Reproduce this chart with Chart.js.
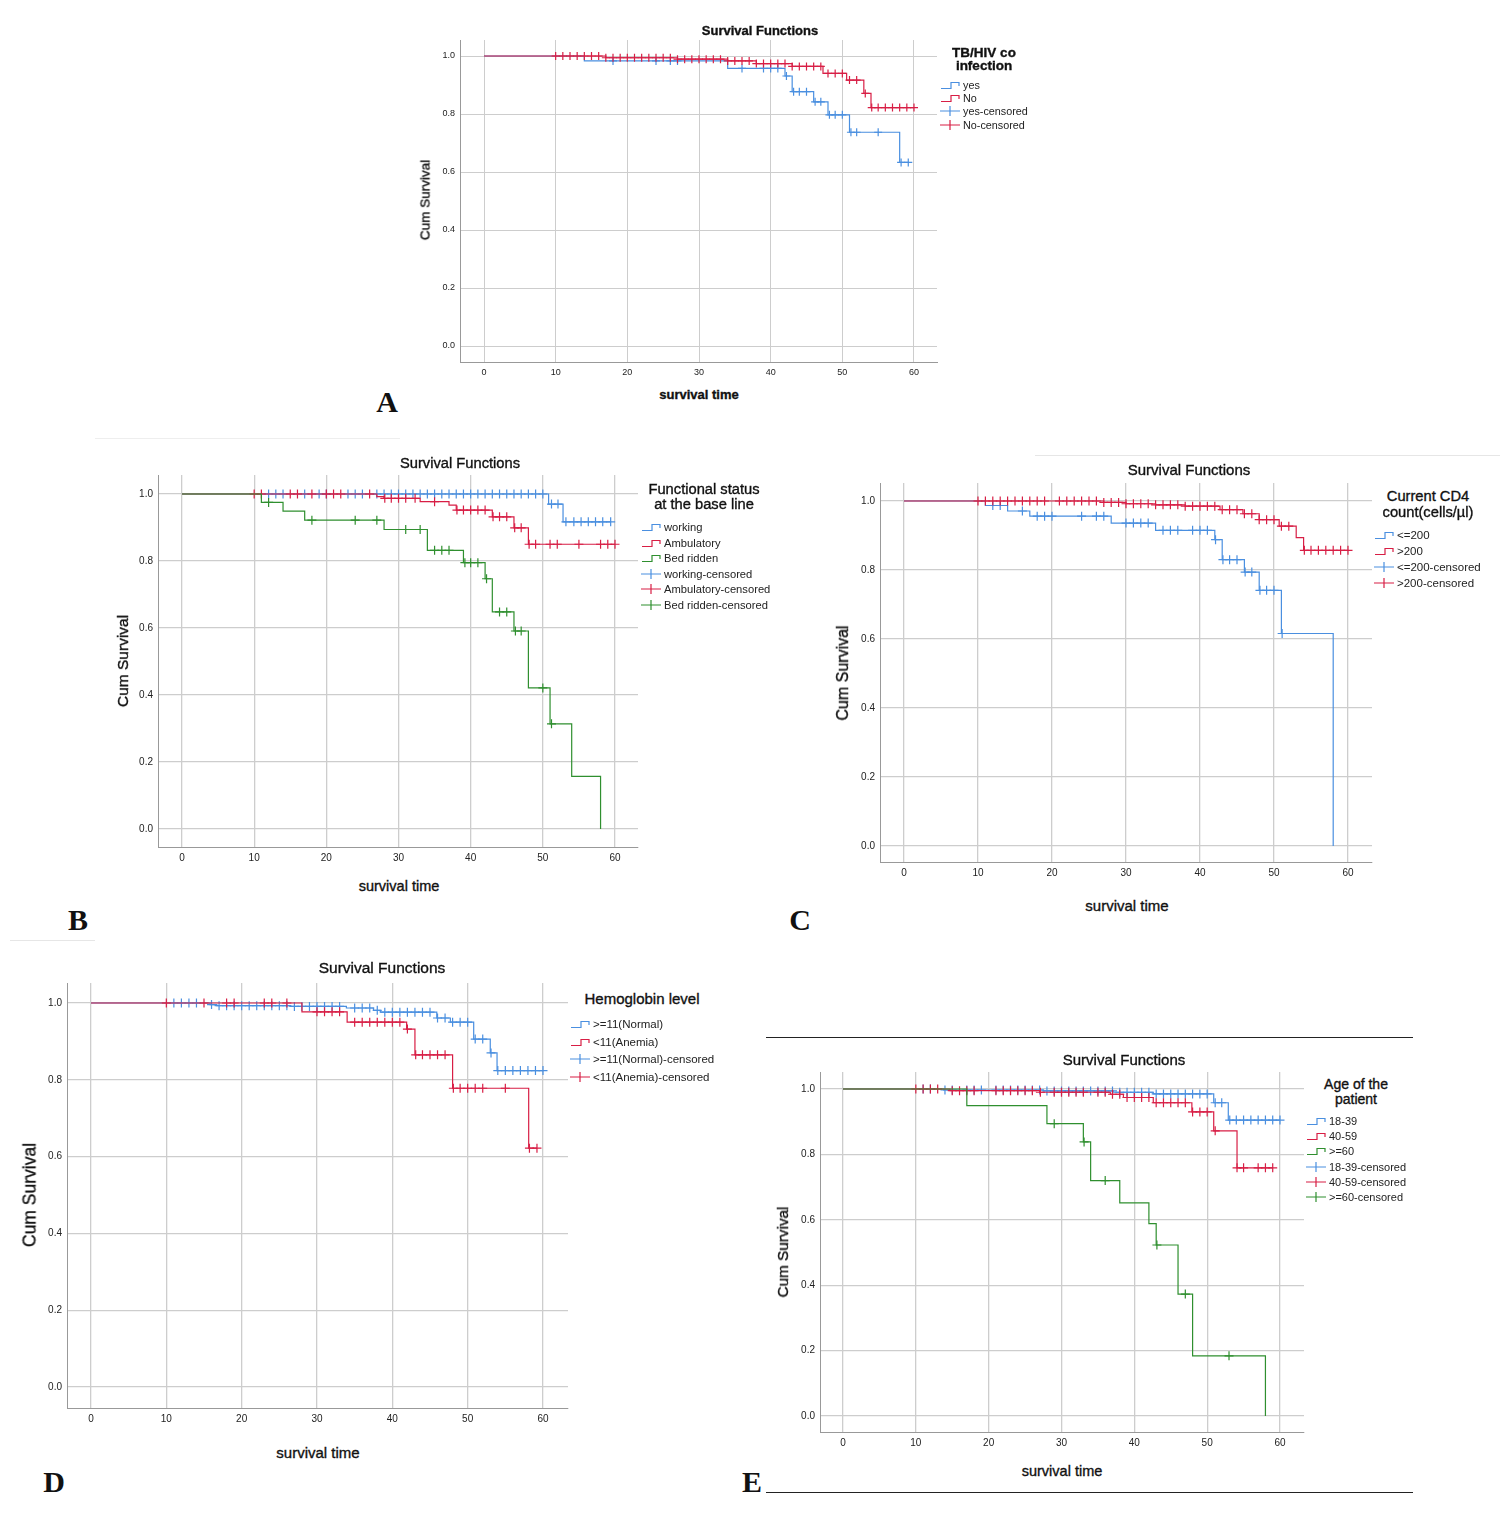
<!DOCTYPE html>
<html>
<head>
<meta charset="utf-8">
<script src="https://cdn.jsdelivr.net/npm/chart.js@4.4.0/dist/chart.umd.min.js"></script>
<style>
  body { margin: 0; background: #fff; width: 1500px; height: 1516px; position: relative; overflow: hidden;
         font-family: "Liberation Sans", Arial, sans-serif; color: #111; }
  canvas { position: absolute; }
  .t { position: absolute; white-space: nowrap; transform: translate(-50%, -50%); -webkit-text-stroke: 0.35px #111; }
  .rot { transform: translate(-50%, -50%) rotate(-90deg); }
  .letter { position: absolute; font-family: "Liberation Serif", "Times New Roman", serif; font-weight: bold; font-size: 30px; transform: translate(-50%, -50%); }
  .leg { position: absolute; white-space: nowrap; transform: translateY(-50%); display: flex; align-items: center; color: #222; }
  .leg svg { margin-right: 2px; }
  .rule { position: absolute; height: 0; }
</style>
</head>
<body>

<script>
// ---- shared ticks ----
const timeTicks = [0, 10, 20, 30, 40, 50, 60];
const survivalTicks = [0, 0.2, 0.4, 0.6, 0.8, 1.0];

// ---- A: TB/HIV co infection ----
const aLabels = ['yes', 'No'];
const aYesTime = [0, 14, 34, 42, 43, 46, 48, 51, 58];
const aYesSurv = [1, 0.983, 0.957, 0.931, 0.877, 0.842, 0.797, 0.737, 0.633];
const aYesCens = [18, 24, 26, 27, 36, 39, 40, 41, 42.2, 43.2, 44, 45, 46.2, 47, 48.2, 49, 50, 51.2, 52, 55, 58.2, 59.2];
const aNoTime = [0, 17, 27, 34, 38, 43, 47.3, 50.6, 53, 54];
const aNoSurv = [1, 0.994, 0.989, 0.983, 0.974, 0.964, 0.94, 0.917, 0.871, 0.822];
const aNoCens = [10, 11, 12, 13, 14, 15, 16, 17, 18, 19, 20, 21, 22, 23, 24, 25, 26, 27, 28, 29, 30, 31, 32, 33, 34, 35,
                 36, 37, 38, 39, 40, 41, 42, 43, 44, 45, 46, 47, 48, 49, 50, 51, 52, 53.2, 54.1, 55, 56, 57, 58, 59, 60];

// ---- B: Functional status ----
const bLabels = ['working', 'Ambulatory', 'Bed ridden'];
const bWorkTime = [0, 50.8, 52.8];
const bWorkSurv = [1, 0.97, 0.917];
const bWorkCens = [12, 13, 14, 17, 19, 20, 23, 24, 25, 27, 28, 29, 30, 31, 32, 33, 34, 35, 36, 37, 38, 39, 40, 41, 42, 43,
                   44, 45, 46, 47, 48, 49, 50, 51.2, 52.1, 53.2, 54.3, 55.3, 56.3, 57.3, 58.3, 59.4];
const bAmbTime = [0, 27, 28, 33, 37, 38, 43, 46, 48];
const bAmbSurv = [1, 0.992, 0.987, 0.977, 0.967, 0.952, 0.932, 0.899, 0.85];
const bAmbCens = [10, 11, 15, 16, 18, 20, 21, 22, 26, 28.1, 29, 30, 31, 32.3, 35, 38.1, 39, 40, 41, 42, 43.1, 44, 45, 46.1,
                  47, 48.1, 49, 51, 52, 55, 58, 59, 60];
const bBedTime = [0, 11, 14, 17, 28, 34, 39, 42, 43, 46, 48, 51, 54, 58];
const bBedSurv = [1, 0.975, 0.949, 0.922, 0.894, 0.832, 0.795, 0.747, 0.648, 0.591, 0.421, 0.314, 0.157, 0];
const bBedCens = [12, 18, 24, 27, 31, 33, 35, 36, 37, 39.2, 40, 41, 42.2, 44, 45, 46.2, 47, 50, 51.2];

// ---- C: Current CD4 count ----
const cLabels = ['<=200', '>200'];
const cLowTime = [0, 11, 14, 17, 28, 34, 42, 43, 46, 48, 51, 58];
const cLowSurv = [1, 0.987, 0.971, 0.956, 0.936, 0.915, 0.888, 0.83, 0.794, 0.741, 0.616, 0];
const cLowCens = [12, 13, 16, 18, 19, 20, 24, 26, 27, 30, 31, 32, 33, 35, 36, 37, 39, 40, 41, 42.1, 43.1, 44, 45, 46.1, 47,
                  48.1, 49, 50, 51.1];
const cHighTime = [0, 27, 30, 34, 38, 42.7, 45.8, 48, 50.7, 53, 54];
const cHighSurv = [1, 0.996, 0.992, 0.989, 0.985, 0.975, 0.963, 0.946, 0.927, 0.894, 0.857];
const cHighCens = [10, 11, 12, 13, 14, 15, 16, 17, 18, 19, 21, 22, 23, 24, 25, 26, 27, 28, 29, 30, 31, 32, 33, 34, 35, 36,
                   37, 38, 39, 40, 41, 42, 43, 44, 45, 46, 47, 48, 49, 50, 51, 52, 54.1, 55, 56, 57, 58, 59, 60];

// ---- D: Hemoglobin level ----
const dLabels = ['>=11(Normal)', '<11(Anemia)'];
const dNormTime = [0, 15.8, 16.7, 26.4, 33.9, 37.5, 38.4, 45.9, 47.7, 50.8, 53, 53.9];
const dNormSurv = [1, 0.996, 0.993, 0.991, 0.987, 0.981, 0.976, 0.961, 0.95, 0.906, 0.87, 0.824];
const dNormCens = [11, 12, 13, 14, 16, 17, 18, 19, 20, 21, 22, 23, 24, 25, 26, 27, 28, 29, 30, 31, 32, 33, 35, 36, 37, 38,
                   39, 40, 41, 42, 43, 44, 45, 46, 47, 48, 49, 50, 51, 52, 53.1, 54, 55, 56, 57, 58, 59, 60];
const dAnemTime = [0, 28, 34, 41.9, 43, 48, 58.1];
const dAnemSurv = [1, 0.977, 0.95, 0.932, 0.865, 0.778, 0.622];
const dAnemCens = [10, 15, 18, 19, 23, 24, 26, 30, 31, 32, 33, 35, 36, 37, 38, 39, 40, 41, 42, 43.1, 44, 45, 46, 47, 48.1,
                   49, 50, 51, 52, 55, 58.2, 59.2];

// ---- E: Age of the patient ----
const eLabels = ['18-39', '40-59', '>=60'];
const eYoungTime = [0, 13.8, 27.5, 37.1, 42.6, 50.9, 52.9];
const eYoungSurv = [1, 0.997, 0.994, 0.99, 0.985, 0.958, 0.905];
const eYoungCens = [11, 12, 14, 15, 17, 18, 19, 21, 22, 23, 24, 25, 26, 27, 28, 29, 30, 31, 32, 33, 34, 35, 36, 37, 38, 39,
                    40, 41, 42, 43, 44, 45, 46, 47, 48, 49, 50, 51.1, 52, 53.1, 54, 55, 56, 57, 58, 59, 60];
const eMidTime = [0, 14.7, 27, 36.7, 38.5, 42.6, 47.9, 50.9, 54.1];
const eMidSurv = [1, 0.995, 0.99, 0.984, 0.974, 0.958, 0.93, 0.872, 0.759];
const eMidCens = [10, 11, 12, 13, 15, 16, 17, 18, 21, 22, 23, 24, 25, 26, 27.1, 29, 30, 31, 32, 33, 35, 36, 37, 38, 39, 40,
                  41, 42, 43, 44, 45, 46, 47, 48, 49, 50, 51.1, 54.1, 55, 57, 58, 59];
const eOldTime = [0, 17, 28, 33, 34, 38, 42, 43, 46, 48, 58];
const eOldSurv = [1, 0.949, 0.894, 0.838, 0.72, 0.652, 0.588, 0.523, 0.373, 0.184, 0];
const eOldCens = [29, 33.1, 36, 43.1, 47, 53];

const BLUE = '#4a8fe0', RED = '#d81e45', GREEN = '#2f8f2f';
const FONT = '"Liberation Sans", Arial, sans-serif';

function survAt(times, surv, t) {
  let s = surv[0];
  for (let i = 0; i < times.length; i++) if (times[i] <= t) s = surv[i];
  return s;
}

function text(str, x, y, css, cls) {
  const d = document.createElement('div');
  d.className = cls || 't';
  d.textContent = str;
  d.style.left = x + 'px';
  d.style.top = y + 'px';
  Object.assign(d.style, css || {});
  document.body.appendChild(d);
}

function legendItem(label, color, kind, x, y, size) {
  const d = document.createElement('div');
  d.className = 'leg';
  d.style.left = x + 'px';
  d.style.top = y + 'px';
  d.style.fontSize = size + 'px';
  const icon = kind === 'line'
    ? `<svg width="21" height="10"><path d="M1 8.5 H11 V2.5 H19 V6" fill="none" stroke="${color}" stroke-width="1.2"/></svg>`
    : `<svg width="21" height="12"><path d="M0 6 H20 M10 1 V11" fill="none" stroke="${color}" stroke-width="1.2"/></svg>`;
  d.innerHTML = icon + '<span></span>';
  d.querySelector('span').textContent = label;
  document.body.appendChild(d);
}

function drawPanel(box, groups, st) {
  const YW = 36, XH = 24, PT = 12, PR = 12;
  const cv = document.createElement('canvas');
  cv.width = YW + (box.R - box.L) + PR;
  cv.height = PT + (box.B - box.T) + XH;
  cv.style.left = (box.L - YW) + 'px';
  cv.style.top = (box.T - PT) + 'px';
  document.body.appendChild(cv);

  const xu = (box.x60 - box.x0) / 60;
  const yu = (box.y0 - box.y1);
  const xmin = -(box.x0 - box.L) / xu, xmax = 60 + (box.R - box.x60) / xu;
  const ymax = 1 + (box.y1 - box.T) / yu, ymin = -(box.B - box.y0) / yu;

  const datasets = [];
  groups.forEach((g, i) => {
    const end = Math.max(g.time[g.time.length - 1], g.cens.length ? g.cens[g.cens.length - 1] : 0);
    const pts = g.time.map((t, k) => ({ x: t, y: g.surv[k] }));
    if (end > g.time[g.time.length - 1]) pts.push({ x: end, y: g.surv[g.surv.length - 1] });
    datasets.push({
      data: pts, showLine: true, stepped: 'before', borderColor: g.color, borderWidth: st.lw,
      pointRadius: 0, fill: false, order: 20 - i * 2
    });
    datasets.push({
      data: g.cens.map(t => ({ x: t, y: survAt(g.time, g.surv, t) })), showLine: false,
      pointStyle: 'cross', pointRadius: st.mr, borderColor: g.color, backgroundColor: g.color,
      pointBorderWidth: st.lw, order: 19 - i * 2
    });
  });

  new Chart(cv, {
    type: 'scatter',
    data: { datasets },
    options: {
      responsive: false, animation: false, events: [],
      layout: { padding: { top: PT, right: PR, left: 0, bottom: 0 } },
      plugins: { legend: { display: false }, tooltip: { enabled: false } },
      scales: {
        x: {
          type: 'linear', min: xmin, max: xmax,
          afterBuildTicks: ax => { ax.ticks = timeTicks.map(v => ({ value: v })); },
          afterFit: s => { s.height = XH; },
          grid: { color: '#cdcdcd', lineWidth: st.gw, drawTicks: false },
          border: { color: '#999', width: 1 },
          ticks: { autoSkip: false, maxRotation: 0, padding: 5, color: '#222', font: { family: FONT, size: st.tick }, callback: v => v }
        },
        y: {
          type: 'linear', min: ymin, max: ymax,
          afterBuildTicks: ax => { ax.ticks = survivalTicks.map(v => ({ value: v })); },
          afterFit: s => { s.width = YW; },
          grid: { color: '#cdcdcd', lineWidth: st.gw, drawTicks: false },
          border: { color: '#999', width: 1 },
          ticks: { autoSkip: false, padding: 5, color: '#222', font: { family: FONT, size: st.tick }, callback: v => v.toFixed(1) }
        }
      }
    }
  });
}

// ---- panel A ----
drawPanel({ L: 460, T: 40, R: 937, B: 362, x0: 484, x60: 914, y1: 56, y0: 346 }, [
  { time: aYesTime, surv: aYesSurv, cens: aYesCens, color: BLUE },
  { time: aNoTime, surv: aNoSurv, cens: aNoCens, color: RED }
], { tick: 9, lw: 1.2, mr: 4, gw: 1 });
text('Survival Functions', 760, 30, { fontSize: '13px', fontWeight: 'bold' });
text('Cum Survival', 425, 200, { fontSize: '13.5px' }, 't rot');
text('survival time', 699, 394, { fontSize: '13px', fontWeight: 'bold' });
text('A', 387, 402, {}, 'letter');
text('TB/HIV co', 984, 52, { fontSize: '13.5px', fontWeight: 'bold' });
text('infection', 984, 65, { fontSize: '13.5px', fontWeight: 'bold' });
[[aLabels[0], BLUE, 'line'], [aLabels[1], RED, 'line'], [aLabels[0] + '-censored', BLUE, 'cross'], [aLabels[1] + '-censored', RED, 'cross']]
  .forEach((it, i) => legendItem(it[0], it[1], it[2], 940, 85 + i * 13.2, 10.8));

// ---- panel B ----
drawPanel({ L: 158, T: 475, R: 638, B: 847, x0: 182, x60: 615, y1: 494, y0: 829 }, [
  { time: bWorkTime, surv: bWorkSurv, cens: bWorkCens, color: BLUE },
  { time: bAmbTime, surv: bAmbSurv, cens: bAmbCens, color: RED },
  { time: bBedTime, surv: bBedSurv, cens: bBedCens, color: GREEN }
], { tick: 10, lw: 1.2, mr: 4.5, gw: 1.3 });
text('Survival Functions', 460, 463, { fontSize: '14.7px' });
text('Cum Survival', 123, 661, { fontSize: '15.5px' }, 't rot');
text('survival time', 399, 886, { fontSize: '14.5px' });
text('B', 78, 920, {}, 'letter');
text('Functional status', 704, 489, { fontSize: '14.7px' });
text('at the base line', 704, 504, { fontSize: '14.7px' });
[[bLabels[0], BLUE, 'line'], [bLabels[1], RED, 'line'], [bLabels[2], GREEN, 'line'],
 [bLabels[0] + '-censored', BLUE, 'cross'], [bLabels[1] + '-censored', RED, 'cross'], [bLabels[2] + '-censored', GREEN, 'cross']]
  .forEach((it, i) => legendItem(it[0], it[1], it[2], 641, 527 + i * 15.6, 11.2));

// ---- panel C ----
drawPanel({ L: 880, T: 483, R: 1372, B: 862, x0: 904, x60: 1348, y1: 501, y0: 846 }, [
  { time: cLowTime, surv: cLowSurv, cens: cLowCens, color: BLUE },
  { time: cHighTime, surv: cHighSurv, cens: cHighCens, color: RED }
], { tick: 10, lw: 1.2, mr: 4.5, gw: 1.3 });
text('Survival Functions', 1189, 469, { fontSize: '15px' });
text('Cum Survival', 843, 673, { fontSize: '16px' }, 't rot');
text('survival time', 1127, 905, { fontSize: '15px' });
text('C', 800, 920, {}, 'letter');
text('Current CD4', 1428, 496, { fontSize: '14.7px' });
text('count(cells/\u00b5l)', 1428, 512, { fontSize: '14.7px' });
[[cLabels[0], BLUE, 'line'], [cLabels[1], RED, 'line'], [cLabels[0] + '-censored', BLUE, 'cross'], [cLabels[1] + '-censored', RED, 'cross']]
  .forEach((it, i) => legendItem(it[0], it[1], it[2], 1374, 535 + i * 16, 11.5));

// ---- panel D ----
drawPanel({ L: 67, T: 983, R: 568, B: 1408, x0: 91, x60: 543, y1: 1003, y0: 1387 }, [
  { time: dNormTime, surv: dNormSurv, cens: dNormCens, color: BLUE },
  { time: dAnemTime, surv: dAnemSurv, cens: dAnemCens, color: RED }
], { tick: 10, lw: 1.2, mr: 4.5, gw: 1.3 });
text('Survival Functions', 382, 968, { fontSize: '15.5px' });
text('Cum Survival', 30, 1195, { fontSize: '17.5px' }, 't rot');
text('survival time', 318, 1452, { fontSize: '15px' });
text('D', 54, 1482, {}, 'letter');
text('Hemoglobin level', 642, 998, { fontSize: '15px' });
[[dLabels[0], BLUE, 'line'], [dLabels[1], RED, 'line'], [dLabels[0] + '-censored', BLUE, 'cross'], [dLabels[1] + '-censored', RED, 'cross']]
  .forEach((it, i) => legendItem(it[0], it[1], it[2], 570, 1024 + i * 17.7, 11.5));

// ---- panel E ----
drawPanel({ L: 820, T: 1072, R: 1304, B: 1432, x0: 843, x60: 1280, y1: 1089, y0: 1416 }, [
  { time: eYoungTime, surv: eYoungSurv, cens: eYoungCens, color: BLUE },
  { time: eMidTime, surv: eMidSurv, cens: eMidCens, color: RED },
  { time: eOldTime, surv: eOldSurv, cens: eOldCens, color: GREEN }
], { tick: 10, lw: 1.2, mr: 4.5, gw: 1.3 });
text('Survival Functions', 1124, 1059, { fontSize: '15px' });
text('Cum Survival', 783, 1252, { fontSize: '15.3px' }, 't rot');
text('survival time', 1062, 1471, { fontSize: '14.5px' });
text('E', 752, 1482, {}, 'letter');
text('Age of the', 1356, 1084, { fontSize: '14px' });
text('patient', 1356, 1099, { fontSize: '14px' });
[[eLabels[0], BLUE, 'line'], [eLabels[1], RED, 'line'], [eLabels[2], GREEN, 'line'],
 [eLabels[0] + '-censored', BLUE, 'cross'], [eLabels[1] + '-censored', RED, 'cross'], [eLabels[2] + '-censored', GREEN, 'cross']]
  .forEach((it, i) => legendItem(it[0], it[1], it[2], 1306, 1121 + i * 15.2, 11));

// ---- scan rules ----
function rule(x, y, w, color, h) {
  const d = document.createElement('div');
  d.className = 'rule';
  d.style.left = x + 'px'; d.style.top = y + 'px'; d.style.width = w + 'px';
  d.style.borderTop = (h || 1) + 'px solid ' + color;
  document.body.appendChild(d);
}
rule(766, 1037, 647, '#222');
rule(766, 1492, 647, '#222');
rule(95, 438, 305, '#eee');
rule(1035, 455, 465, '#e6e6e6');
rule(10, 940, 85, '#e6e6e6');
</script>
</body>
</html>
